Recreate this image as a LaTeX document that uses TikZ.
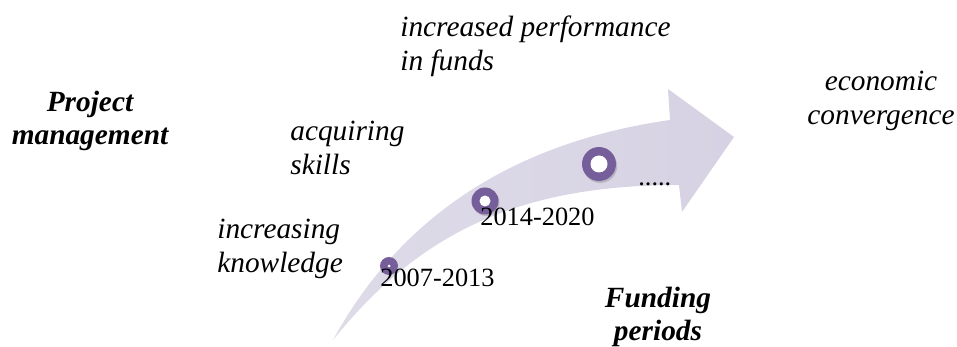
\documentclass[tikz,border=0pt]{standalone}
\usepackage{fontspec}
\setmainfont{Liberation Serif}
\usepackage{tikz}

\definecolor{banda}{RGB}{214,210,227}
\definecolor{anello}{RGB}{118,94,155}

\tikzset{
  testo/.style={inner sep=0pt, font=\fontsize{16.7}{19.2}\selectfont\itshape},
  titolo/.style={testo, font=\fontsize{16.7}{19.2}\selectfont\bfseries\itshape, align=center},
  periodo/.style={inner sep=0pt, font=\fontsize{15}{17}\selectfont},
  ombra/.style={fill=black, opacity=0.15}
}

\begin{document}
\begin{tikzpicture}[x=0.02cm, y=-0.02cm]
    \useasboundingbox (0,0) rectangle (957,347);

    % freccia curva
    \shade[left color=banda!80, right color=banda]
        (333,340) .. controls (392,232) and (495,145) .. (670,120)
        -- (668,89) -- (734,137) -- (682,212) -- (679,185)
        .. controls (520,185) and (420,232) .. cycle;

    % punti sui periodi
    \coordinate (p1) at (389,266);
    \coordinate (p2) at (485,201);
    \coordinate (p3) at (599,164);
    \path[ombra] ([shift={(1,1.5)}]p2) circle (0.27cm);
    \path[ombra] ([shift={(1.2,2)}]p3) circle (0.34cm);
    \fill[anello] (p1) circle (0.18cm);
    \fill[white] (p1) circle (0.03cm);
    \fill[anello] (p2) circle (0.27cm);
    \fill[white] (p2) circle (0.11cm);
    \fill[anello] (p3) circle (0.34cm);
    \fill[white] (p3) circle (0.17cm);

    % periodi di finanziamento
    \node[periodo, anchor=west] (per1) at (380,278) {2007-2013};
    \node[periodo, anchor=west] (per2) at (480,217) {2014-2020};
    \node[periodo, anchor=base west] (per3) at (638,186) {.....};

    % titoli
    \node[titolo] (gestione) at (90,121) {Project\\management};
    \node[titolo] (fondi) at (658,317) {Funding\\periods};

    % etichette
    \node[testo, anchor=west, align=left] (conoscenza) at (217,249) {increasing\\knowledge};
    \node[testo, anchor=west, align=left] (competenze) at (290,148) {acquiring\\skills};
    \node[testo, anchor=west, align=left] (prestazioni) at (400,46) {increased performance\\in funds};
    \node[testo, align=center] (convergenza) at (881,101) {economic\\convergence};
\end{tikzpicture}
\end{document}
